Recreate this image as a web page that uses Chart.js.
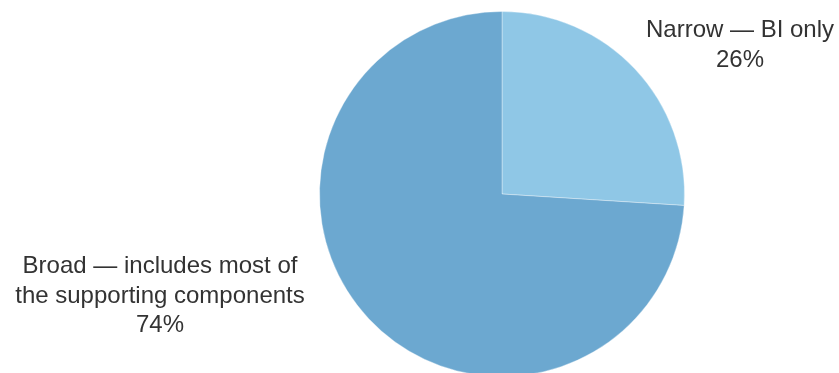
<!DOCTYPE html>
<html lang="en">
<head>
    <meta charset="UTF-8">
    <title>BI scope pie</title>
    <script src="https://cdn.jsdelivr.net/npm/chart.js"></script>
    <style>
        html, body { margin: 0; padding: 0; background: #fff; overflow: hidden; }
        #wrap { width: 839px; height: 388px; }
    </style>
</head>
<body>
    <div id="wrap">
        <canvas id="scopeChart" width="839" height="388"></canvas>
    </div>
    <script>
        // data
        const categories = ['Narrow \u2014 BI only', 'Broad \u2014 includes most of the supporting components'];
        const shares = [26, 74];
        // how each label is broken into lines
        const labelLines = [
            ['Narrow \u2014 BI only', '26%'],
            ['Broad \u2014 includes most of', 'the supporting components', '74%']
        ];
        const sliceColors = ['#8fc7e6', '#6ca8d0'];

        // labels sit outside the pie, offset from its centre
        const labelOffsets = [
            { dx: 238, dy: -157 },
            { dx: -342, dy: 79 }
        ];

        const outsideLabels = {
            id: 'outsideLabels',
            afterDatasetsDraw(chart) {
                const ctx = chart.ctx;
                const arc = chart.getDatasetMeta(0).data[0];
                ctx.save();
                ctx.fillStyle = '#333333';
                ctx.font = '24px "Liberation Sans", Arial, sans-serif';
                ctx.textAlign = 'center';
                ctx.textBaseline = 'alphabetic';
                labelLines.forEach((lines, i) => {
                    const x = arc.x + labelOffsets[i].dx;
                    let y = arc.y + labelOffsets[i].dy;
                    lines.forEach(line => {
                        ctx.fillText(line, x, y);
                        y += 29.5;
                    });
                });
                ctx.restore();
            }
        };

        const ctx = document.getElementById('scopeChart').getContext('2d');
        new Chart(ctx, {
            type: 'pie',
            data: {
                labels: categories,
                datasets: [{
                    data: shares,
                    backgroundColor: sliceColors,
                    borderColor: 'rgba(255,255,255,0.35)',
                    borderWidth: 1
                }]
            },
            options: {
                responsive: false,
                animation: false,
                layout: {
                    padding: { left: 319, right: 154, top: 11, bottom: 11 }
                },
                plugins: {
                    legend: { display: false },
                    tooltip: { enabled: false }
                }
            },
            plugins: [outsideLabels]
        });
    </script>
</body>
</html>
